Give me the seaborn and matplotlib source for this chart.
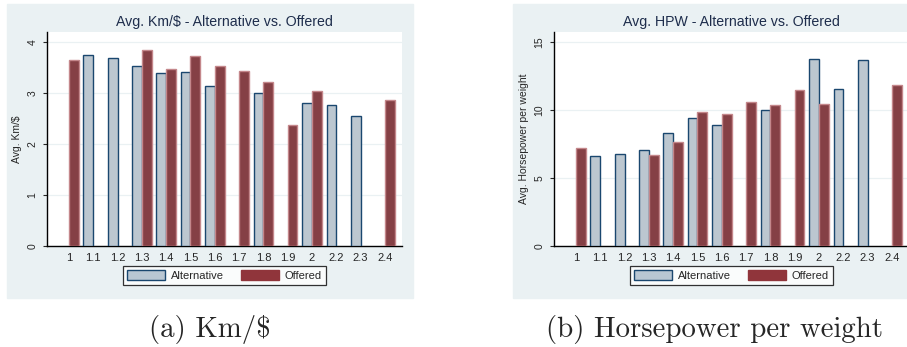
import pandas as pd
import seaborn as sns
import numpy as np
import matplotlib.pyplot as plt
from matplotlib.patches import Rectangle, Patch
from matplotlib.colors import to_rgba

# category labels (engine size)
cats = ['1', '1.1', '1.2', '1.3', '1.4', '1.5', '1.6', '1.7', '1.8', '1.9', '2', '2.2', '2.3', '2.4']

# Avg. Km/$
km_alt = [np.nan, 3.74, 3.69, 3.53, 3.39, 3.42, 3.14, np.nan, 3.01, np.nan, 2.81, 2.76, 2.56, np.nan]
km_off = [3.66, np.nan, np.nan, 3.85, 3.48, 3.72, 3.53, 3.44, 3.21, 2.37, 3.05, np.nan, np.nan, 2.87]

# Avg. horsepower per weight
hpw_alt = [np.nan, 6.61, 6.79, 7.03, 8.29, 9.44, 8.88, np.nan, 9.98, np.nan, 13.77, 11.53, 13.72, np.nan]
hpw_off = [7.18, np.nan, np.nan, 6.69, 7.65, 9.86, 9.69, 10.60, 10.38, 11.46, 10.43, np.nan, np.nan, 11.85]

series = ['Alternative', 'Offered']

sns.set_style('white')
plt.rcParams['font.family'] = ['Liberation Sans', 'DejaVu Sans']

bg = '#eaf1f3'
alt_fill = '#b9c7d3'
alt_edge = '#1a476f'
off_fill = '#90353b'
off_edge = '#c4878b'


def long_df(alt, off):
    return pd.DataFrame({
        'cat': cats * 2,
        'val': list(alt) + list(off),
        'grp': ['Alternative'] * len(cats) + ['Offered'] * len(cats),
    })


fig = plt.figure(figsize=(9.07, 3.47), dpi=100)
W, H = 907, 347

# panel backgrounds
for x0, x1 in [(7, 413), (513, 920)]:
    fig.patches.append(Rectangle((x0 / W, 1 - 298 / H), (x1 - x0) / W, (298 - 4) / H,
                                 transform=fig.transFigure, color=bg, zorder=-5))

panels = [
    (47, 'Avg. Km/$ - Alternative vs. Offered', 'Avg. Km/$', km_alt, km_off, 4.2, [0, 1, 2, 3, 4]),
    (554, 'Avg. HPW - Alternative vs. Offered', 'Avg. Horsepower per weight', hpw_alt, hpw_off, 15.75, [0, 5, 10, 15]),
]

alt_rgba = to_rgba(alt_fill)
for x0, title, ylab, alt, off, ymax, yt in panels:
    ax = fig.add_axes([x0 / W, 1 - 246 / H, 355 / W, (246 - 32) / H])
    df = long_df(alt, off)
    sns.barplot(data=df, x='cat', y='val', hue='grp', hue_order=series,
                palette=[alt_fill, off_fill], errorbar=None, width=0.8,
                ax=ax, legend=False, zorder=3)
    n = len(cats)
    for bar in ax.patches:
        is_alt = np.allclose(bar.get_facecolor(), alt_rgba, atol=0.02)
        bar.set_linewidth(1.0)
        bar.set_edgecolor(alt_edge if is_alt else off_edge)
    ax.set_facecolor('white')
    ax.set_ylim(0, ymax)
    ax.set_xlim(-0.9, n - 0.3)
    ax.set_yticks(yt)
    ax.set_yticklabels([str(t) for t in yt], rotation=90, va='center', fontsize=7.5)
    ax.tick_params(axis='y', length=3, width=0.8, pad=4, left=True)
    ax.tick_params(axis='x', length=0, pad=5, labelsize=8)
    ax.yaxis.grid(True, color=bg, linewidth=0.9, zorder=0)
    ax.set_axisbelow(True)
    for s in ['top', 'right']:
        ax.spines[s].set_visible(False)
    for s in ['left', 'bottom']:
        ax.spines[s].set_color('black')
        ax.spines[s].set_linewidth(1.0)
    ax.set_xlabel('')
    ax.set_ylabel(ylab, fontsize=7.5, labelpad=4)
    ax.set_title(title, fontsize=10.2, color='#1e2d4c', pad=4)
    handles = [Patch(facecolor=alt_fill, edgecolor=alt_edge, linewidth=1.0, label='Alternative'),
               Patch(facecolor=off_fill, edgecolor=off_fill, label='Offered')]
    leg = ax.legend(handles=handles, loc='upper center', bbox_to_anchor=(0.5, -0.095),
                    ncol=2, fontsize=8, frameon=True, fancybox=False, edgecolor='black',
                    handlelength=3.4, handleheight=1.0, columnspacing=1.5,
                    borderpad=0.35, handletextpad=0.55, borderaxespad=0)
    leg.get_frame().set_linewidth(0.9)

# subfigure captions
cap_font = dict(family='cmr10', fontsize=20.8, ha='center', va='center')
fig.text(210 / W, 1 - 329 / H, r'(a) Km/\$', **cap_font)
fig.text(715 / W, 1 - 329 / H, '(b) Horsepower per weight', **cap_font)

fig.savefig('out.png', dpi=100, facecolor='white')
